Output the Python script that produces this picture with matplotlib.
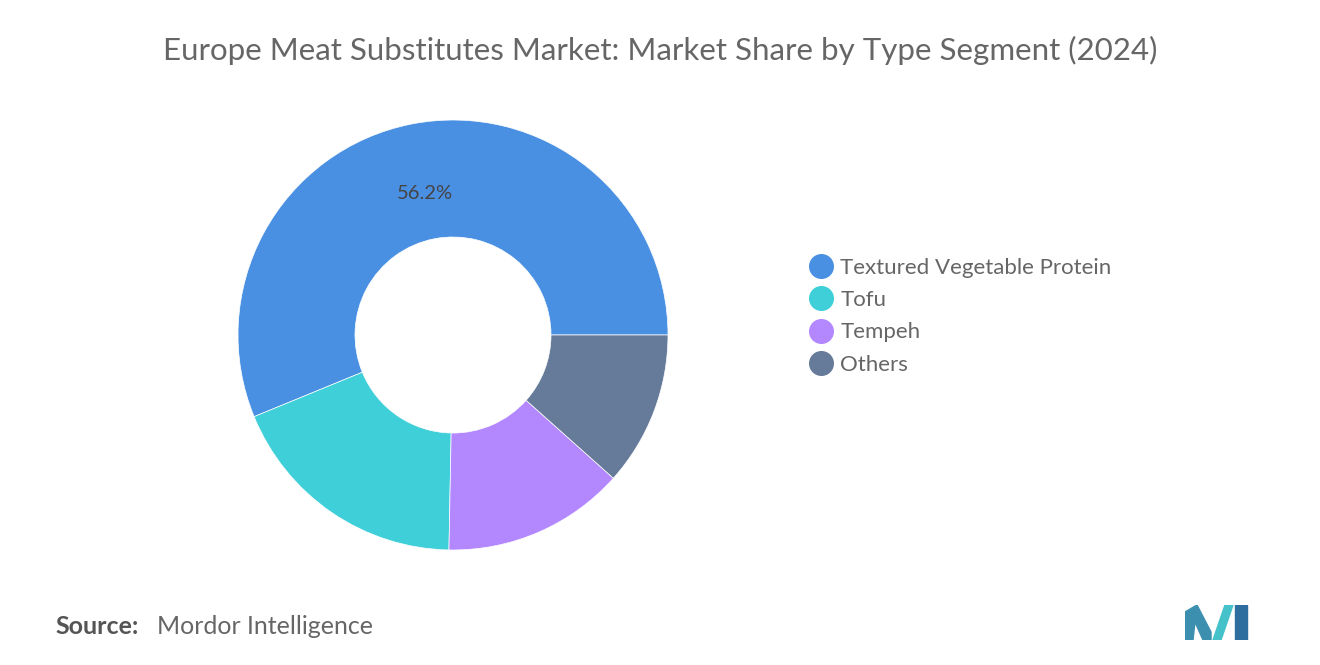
import matplotlib.pyplot as plt
from matplotlib.lines import Line2D
from matplotlib.patches import Polygon

categories = ["Textured Vegetable Protein", "Tofu", "Tempeh", "Others"]
shares = [56.2, 18.5, 13.7, 11.6]
colors = ["#4A90E2", "#3ECFD9", "#B388FF", "#667A99"]

plt.rcParams["font.family"] = "Lato"

fig = plt.figure(figsize=(13.2, 6.65), dpi=100, facecolor="white")

# title
fig.text(0.5, 1 - 50 / 665, "Europe Meat Substitutes Market: Market Share by Type Segment (2024)",
         ha="center", va="center", fontsize=22.5, color="#666666")

# donut
ax = fig.add_axes([(453 - 215) / 1320, (665 - 335 - 215) / 665, 430 / 1320, 430 / 665])
biggest = max(shares)


def pct_label(p):
    return f"{p:.1f}%" if abs(p - biggest) < 0.5 else ""


wedges, texts, autotexts = ax.pie(shares, colors=colors, startangle=0, counterclock=True,
                                  wedgeprops=dict(width=1 - 98 / 215, edgecolor="white", linewidth=0.5),
                                  autopct=pct_label, pctdistance=0.67)
for t in autotexts:
    t.set_fontsize(14.5)
    t.set_color("#444444")
ax.set_aspect("equal")
ax.set_xlim(-1, 1)
ax.set_ylim(-1, 1)

# legend
handles = [Line2D([0], [0], marker="o", linestyle="", markersize=17, markerfacecolor=c,
                  markeredgecolor=c) for c in colors]
leg = fig.legend(handles, categories, loc="upper left", bbox_to_anchor=(807 / 1320, 1 - 258 / 665),
                 frameon=False, fontsize=16, handletextpad=0.2, labelspacing=0.55,
                 handlelength=1.3, borderaxespad=0, borderpad=0)
for t in leg.get_texts():
    t.set_color("#666666")

# source
fig.text(55 / 1320, 1 - 627 / 665, "Source:", fontsize=18, color="#555555", va="center",
         fontweight="bold")
fig.text(157 / 1320, 1 - 627 / 665, "Mordor Intelligence", fontsize=18, color="#666666", va="center")

# logo
lax = fig.add_axes([1185 / 1320, 1 - 640 / 665, 65 / 1320, 35 / 665])
lax.set_xlim(0, 65)
lax.set_ylim(0, 35)
lax.axis("off")
lax.add_patch(Polygon([(0, 0), (0, 28), (12, 35), (26, 8), (26, 0), (18, 0), (10, 18), (8, 0)],
                      closed=True, color="#3D8FB0"))
lax.add_patch(Polygon([(28, 0), (40, 35), (48, 35), (36, 0)], closed=True, color="#45C1C9"))
lax.add_patch(Polygon([(50, 0), (50, 35), (62, 35), (62, 0)], closed=True, color="#2E6E9E"))

fig.savefig("out.png", dpi=100, facecolor="white")
